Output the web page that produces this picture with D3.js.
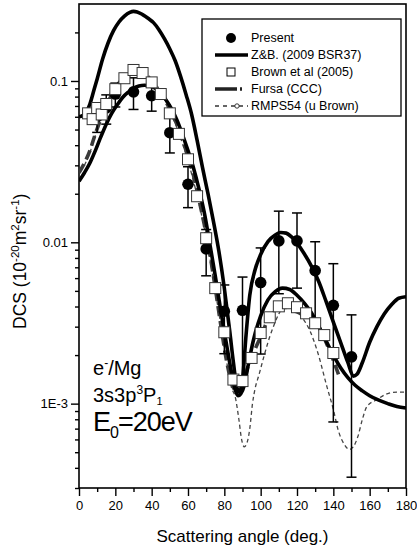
<!DOCTYPE html>
<html>
<head>
<meta charset="utf-8">
<script src="https://cdn.jsdelivr.net/npm/d3@7"></script>
<style>
  html, body { margin: 0; padding: 0; background: #fff; }
  svg text { font-family: Arial, "Liberation Sans", sans-serif; fill: #000; }
</style>
</head>
<body>
<svg id="chart" width="417" height="554"></svg>
<script>
// Measured DCS (Present) with absolute errors
const presentAngles = [10, 15, 20, 30, 40, 50, 60, 70, 80, 90, 100, 110, 120, 130, 140, 150];
const presentValues = [0.060, 0.068, 0.083, 0.0856, 0.081, 0.0478, 0.0229, 0.0091, 0.00374, 0.00379, 0.00563, 0.0102, 0.0102, 0.00668, 0.00407, 0.00195];
const presentErrors = [0.012, 0.014, 0.014, 0.019, 0.016, 0.012, 0.0065, 0.0029, 0.0017, 0.0023, 0.0036, 0.0054, 0.0050, 0.0034, 0.0033, 0.0016];

// Brown et al (2005)
const brownAngles = [5, 7.5, 10, 12.5, 15, 20, 25, 30, 35, 40, 45, 50, 55, 60, 65, 70, 75, 80, 85, 90, 95, 100, 105, 110, 115, 120, 125, 130, 135, 140];
const brownValues = [0.063, 0.058, 0.068, 0.062, 0.072, 0.089, 0.104, 0.117, 0.112, 0.098, 0.083, 0.063, 0.047, 0.0327, 0.0193, 0.0106, 0.0052, 0.00277, 0.00141, 0.00138, 0.00192, 0.00274, 0.00343, 0.00401, 0.00419, 0.00396, 0.00363, 0.00315, 0.00266, 0.00206];

// Z&B (2009 BSR37), upper curve
const zbAAngles = [0, 2, 4, 6, 8, 10, 13, 16, 19, 22, 25, 28, 30, 32, 35, 38, 41, 44, 47, 50, 53, 56, 59, 62, 65, 68, 71, 74, 77, 80, 83, 85, 87, 88.5, 90, 92, 94, 97, 100, 104, 108, 111, 114, 117, 120, 124, 128, 132, 136, 140, 144, 148, 151, 153, 156, 160, 164, 168, 172, 176, 180];
const zbAValues = [0.060, 0.061, 0.064, 0.072, 0.086, 0.103, 0.137, 0.172, 0.205, 0.232, 0.252, 0.266, 0.270, 0.268, 0.258, 0.245, 0.230, 0.208, 0.183, 0.158, 0.133, 0.106, 0.082, 0.062, 0.043, 0.029, 0.020, 0.0135, 0.0088, 0.0052, 0.0028, 0.0018, 0.00125, 0.00118, 0.0014, 0.0027, 0.0047, 0.0068, 0.0084, 0.0101, 0.0111, 0.0115, 0.0114, 0.0108, 0.0099, 0.0085, 0.0071, 0.0057, 0.0043, 0.0032, 0.0024, 0.0018, 0.00148, 0.00152, 0.0018, 0.0024, 0.0030, 0.0036, 0.0041, 0.0045, 0.0046];

// Z&B, lower curve
const zbBAngles = [0, 3, 6, 9, 12, 15, 18, 21, 24, 27, 30, 33, 36, 39, 42, 45, 48, 51, 54, 57, 60, 63, 66, 69, 72, 75, 78, 81, 84, 86, 87.5, 89, 91, 93, 96, 100, 104, 108, 112, 116, 120, 124, 128, 132, 136, 140, 144, 148, 152, 156, 160, 165, 170, 175, 180];
const zbBValues = [0.0239, 0.027, 0.031, 0.037, 0.045, 0.054, 0.063, 0.071, 0.079, 0.085, 0.090, 0.093, 0.094, 0.093, 0.090, 0.084, 0.076, 0.067, 0.057, 0.0464, 0.037, 0.029, 0.0215, 0.0152, 0.0098, 0.0062, 0.0038, 0.0024, 0.00155, 0.00122, 0.00112, 0.00115, 0.0013, 0.0017, 0.00247, 0.0035, 0.0044, 0.00495, 0.0052, 0.0051, 0.0047, 0.0042, 0.00365, 0.0030, 0.00245, 0.0020, 0.00167, 0.00145, 0.0013, 0.0012, 0.00112, 0.00105, 0.0010, 0.00096, 0.00094];

// Fursa (CCC)
const fursaAngles = [0, 3, 6, 9, 12, 15, 18, 21, 24, 27, 30, 33, 36, 39, 42, 45, 48, 51, 54, 57, 60, 63, 66, 69, 72, 75, 78, 81, 84, 86, 88, 90, 93, 96, 100, 104, 108, 112, 116, 120, 124, 128, 132, 136, 140, 143];
const fursaValues = [0.027, 0.031, 0.037, 0.047, 0.058, 0.070, 0.082, 0.094, 0.103, 0.108, 0.112, 0.113, 0.111, 0.103, 0.094, 0.086, 0.074, 0.063, 0.0535, 0.043, 0.034, 0.026, 0.0185, 0.0128, 0.0085, 0.0052, 0.0031, 0.0019, 0.00135, 0.00122, 0.00122, 0.0013, 0.0017, 0.00206, 0.0026, 0.0033, 0.00375, 0.00396, 0.0039, 0.0037, 0.00355, 0.0034, 0.0030, 0.0024, 0.00186, 0.0015];

// RMPS54 (u Brown)
const rmpsAngles = [3, 6, 9, 12, 15, 18, 21, 24, 27, 30, 33, 36, 39, 42, 45, 48, 51, 54, 57, 60, 63, 66, 69, 72, 75, 78, 81, 84, 86, 88, 89.5, 91, 93, 94, 95.5, 97, 99, 102, 105, 107, 110, 113, 116, 119, 123, 127, 131.5, 136.5, 140, 142.6, 146, 149, 151, 153.6, 156, 158.5, 164, 169.5, 175, 180];
const rmpsValues = [0.030, 0.036, 0.046, 0.058, 0.071, 0.084, 0.096, 0.106, 0.112, 0.115, 0.116, 0.113, 0.106, 0.097, 0.086, 0.074, 0.062, 0.051, 0.041, 0.032, 0.024, 0.0175, 0.0122, 0.0080, 0.0050, 0.0031, 0.0019, 0.00125, 0.0011, 0.0008, 0.0006, 0.00054, 0.0006, 0.0007, 0.0010, 0.00125, 0.0015, 0.0020, 0.0026, 0.0030, 0.0036, 0.0040, 0.00405, 0.0039, 0.0034, 0.00285, 0.00206, 0.00127, 0.00092, 0.00069, 0.00056, 0.00052, 0.00054, 0.00063, 0.0008, 0.00096, 0.00106, 0.00115, 0.00118, 0.00118];

// Axis ticks
const xMajorTicks = [0, 20, 40, 60, 80, 100, 120, 140, 160, 180];
const xMinorTicks = [10, 30, 50, 70, 90, 110, 130, 150, 170];
const yMajorTicks = [0.001, 0.01, 0.1];
const yMajorLabels = ["1E-3", "0.01", "0.1"];

const legendLabels = ["Present", "Z&B. (2009 BSR37)", "Brown et al (2005)", "Fursa (CCC)", "RMPS54 (u Brown)"];

const svg = d3.select("#chart");
const plot = { left: 79, right: 406, top: 4, bottom: 488 };

const x = d3.scaleLinear().domain([0, 180]).range([plot.left, plot.right]);
const y = d3.scaleLog().domain([3e-4, 0.3]).range([plot.bottom, plot.top]);

// minor log ticks 2..9 × decade inside the domain
const yMinorTicks = [];
for (let e = -4; e <= -1; e++) {
  for (let k = 2; k <= 9; k++) {
    const v = k * Math.pow(10, e);
    if (v >= 3e-4 && v <= 0.3) yMinorTicks.push(v);
  }
}

svg.append("defs").append("clipPath").attr("id", "plotClip")
  .append("rect").attr("x", plot.left).attr("y", plot.top)
  .attr("width", plot.right - plot.left).attr("height", plot.bottom - plot.top);

// Axes
const xAxis = svg.append("g").attr("transform", `translate(0,${plot.bottom})`)
  .call(d3.axisBottom(x).tickValues(xMajorTicks).tickSize(8).tickPadding(5).tickFormat(d3.format("d")));
const xMinor = svg.append("g").attr("transform", `translate(0,${plot.bottom})`)
  .call(d3.axisBottom(x).tickValues(xMinorTicks).tickSize(4).tickFormat(""));
const yAxis = svg.append("g").attr("transform", `translate(${plot.left},0)`)
  .call(d3.axisLeft(y).tickValues(yMajorTicks).tickSize(8).tickPadding(3)
    .tickFormat((d, i) => yMajorLabels[i]));
const yMinor = svg.append("g").attr("transform", `translate(${plot.left},0)`)
  .call(d3.axisLeft(y).tickValues(yMinorTicks).tickSize(4).tickFormat(""));

[xAxis, xMinor, yAxis, yMinor].forEach(g => {
  g.select(".domain").remove();
  g.selectAll("line").attr("stroke", "#000").attr("stroke-width", 1.4);
  g.selectAll("text").attr("font-size", 13).attr("font-family", "Arial, 'Liberation Sans', sans-serif");
});

// Frame
svg.append("rect").attr("x", plot.left).attr("y", plot.top)
  .attr("width", plot.right - plot.left).attr("height", plot.bottom - plot.top)
  .attr("fill", "none").attr("stroke", "#000").attr("stroke-width", 1.6);

// Curves
const line = d3.line().x(d => x(d[0])).y(d => y(d[1])).curve(d3.curveMonotoneX);
const curves = svg.append("g").attr("clip-path", "url(#plotClip)");

function drawCurve(angles, values, stroke, width, dash) {
  const pts = angles.map((a, i) => [a, values[i]]);
  curves.append("path").datum(pts).attr("d", line)
    .attr("fill", "none").attr("stroke", stroke).attr("stroke-width", width)
    .attr("stroke-linejoin", "round").attr("stroke-dasharray", dash || null);
}
drawCurve(rmpsAngles, rmpsValues, "#444", 1.3, "4,3");
drawCurve(fursaAngles, fursaValues, "#3a3a3a", 3.6, "10,5");
drawCurve(zbBAngles, zbBValues, "#000", 3.6);
drawCurve(zbAAngles, zbAValues, "#000", 3.6);

// Error bars
const marks = svg.append("g");
presentAngles.forEach((a, i) => {
  const v = presentValues[i], e = presentErrors[i];
  const lo = Math.max(v - e, 3e-4), hi = v + e;
  const cx = x(a);
  marks.append("line").attr("x1", cx).attr("x2", cx).attr("y1", y(lo)).attr("y2", y(hi))
    .attr("stroke", "#000").attr("stroke-width", 1.5);
  [lo, hi].forEach(b => marks.append("line")
    .attr("x1", cx - 5).attr("x2", cx + 5).attr("y1", y(b)).attr("y2", y(b))
    .attr("stroke", "#000").attr("stroke-width", 1.5));
});

// Present points
marks.selectAll("circle.present").data(presentAngles).join("circle")
  .attr("class", "present")
  .attr("cx", d => x(d)).attr("cy", (d, i) => y(presentValues[i])).attr("r", 5.8)
  .attr("fill", "#000");

// Brown et al squares
const sq = 11;
marks.selectAll("rect.brown").data(brownAngles).join("rect")
  .attr("class", "brown")
  .attr("x", d => x(d) - sq / 2).attr("y", (d, i) => y(brownValues[i]) - sq / 2)
  .attr("width", sq).attr("height", sq)
  .attr("fill", "#fff").attr("stroke", "#333").attr("stroke-width", 1);

// Legend
const lg = svg.append("g");
lg.append("rect").attr("x", 202).attr("y", 19).attr("width", 199).attr("height", 97)
  .attr("fill", "#fff").attr("stroke", "#000").attr("stroke-width", 1.3);
const rowY = i => 38 + i * 17;
const symX = 231;
legendLabels.forEach((t, i) => {
  lg.append("text").attr("x", 251).attr("y", rowY(i)).attr("dy", "0.35em")
    .attr("font-size", 12.5).text(t);
});
lg.append("circle").attr("cx", symX).attr("cy", rowY(0)).attr("r", 5).attr("fill", "#000");
lg.append("line").attr("x1", 215).attr("x2", 248).attr("y1", rowY(1)).attr("y2", rowY(1))
  .attr("stroke", "#000").attr("stroke-width", 3.6);
lg.append("rect").attr("x", symX - 4).attr("y", rowY(2) - 4).attr("width", 8).attr("height", 8)
  .attr("fill", "#fff").attr("stroke", "#000").attr("stroke-width", 1);
lg.append("line").attr("x1", 215).attr("x2", 248).attr("y1", rowY(3)).attr("y2", rowY(3))
  .attr("stroke", "#222").attr("stroke-width", 3.6).attr("stroke-dasharray", "22,3,2,6");
lg.append("line").attr("x1", 215).attr("x2", 248).attr("y1", rowY(4)).attr("y2", rowY(4))
  .attr("stroke", "#333").attr("stroke-width", 1.3).attr("stroke-dasharray", "4,4");
lg.append("circle").attr("cx", 237).attr("cy", rowY(4)).attr("r", 2.2)
  .attr("fill", "#fff").attr("stroke", "#333").attr("stroke-width", 1);

// Axis titles
svg.append("text").attr("x", (plot.left + plot.right) / 2).attr("y", 542)
  .attr("text-anchor", "middle").attr("font-size", 17).text("Scattering angle (deg.)");

const yTitle = svg.append("text").attr("transform", "translate(26,329) rotate(-90)")
  .attr("font-size", 17.5);
yTitle.append("tspan").text("DCS (10");
yTitle.append("tspan").attr("dy", -7).attr("font-size", 11.5).text("-20");
yTitle.append("tspan").attr("dy", 7).text("m");
yTitle.append("tspan").attr("dy", -7).attr("font-size", 11.5).text("2");
yTitle.append("tspan").attr("dy", 7).text("sr");
yTitle.append("tspan").attr("dy", -7).attr("font-size", 11.5).text("-1");
yTitle.append("tspan").attr("dy", 7).text(")");

// Collision annotation
const t1 = svg.append("text").attr("x", 93).attr("y", 375).attr("font-size", 20);
t1.append("tspan").text("e");
t1.append("tspan").attr("dy", -8).attr("font-size", 12).text("-");
t1.append("tspan").attr("dy", 8).text("/Mg");

const t2 = svg.append("text").attr("x", 93).attr("y", 402).attr("font-size", 20);
t2.append("tspan").text("3s3p");
t2.append("tspan").attr("dy", -8).attr("font-size", 12).text("3");
t2.append("tspan").attr("dy", 8).text("P");
t2.append("tspan").attr("dy", 3).attr("font-size", 11).text("1");

const t3 = svg.append("text").attr("x", 93).attr("y", 431).attr("font-size", 27).attr("letter-spacing", -1);
t3.append("tspan").text("E");
t3.append("tspan").attr("dy", 7).attr("font-size", 16).text("0");
t3.append("tspan").attr("dy", -7).text("=20eV");
</script>
</body>
</html>
